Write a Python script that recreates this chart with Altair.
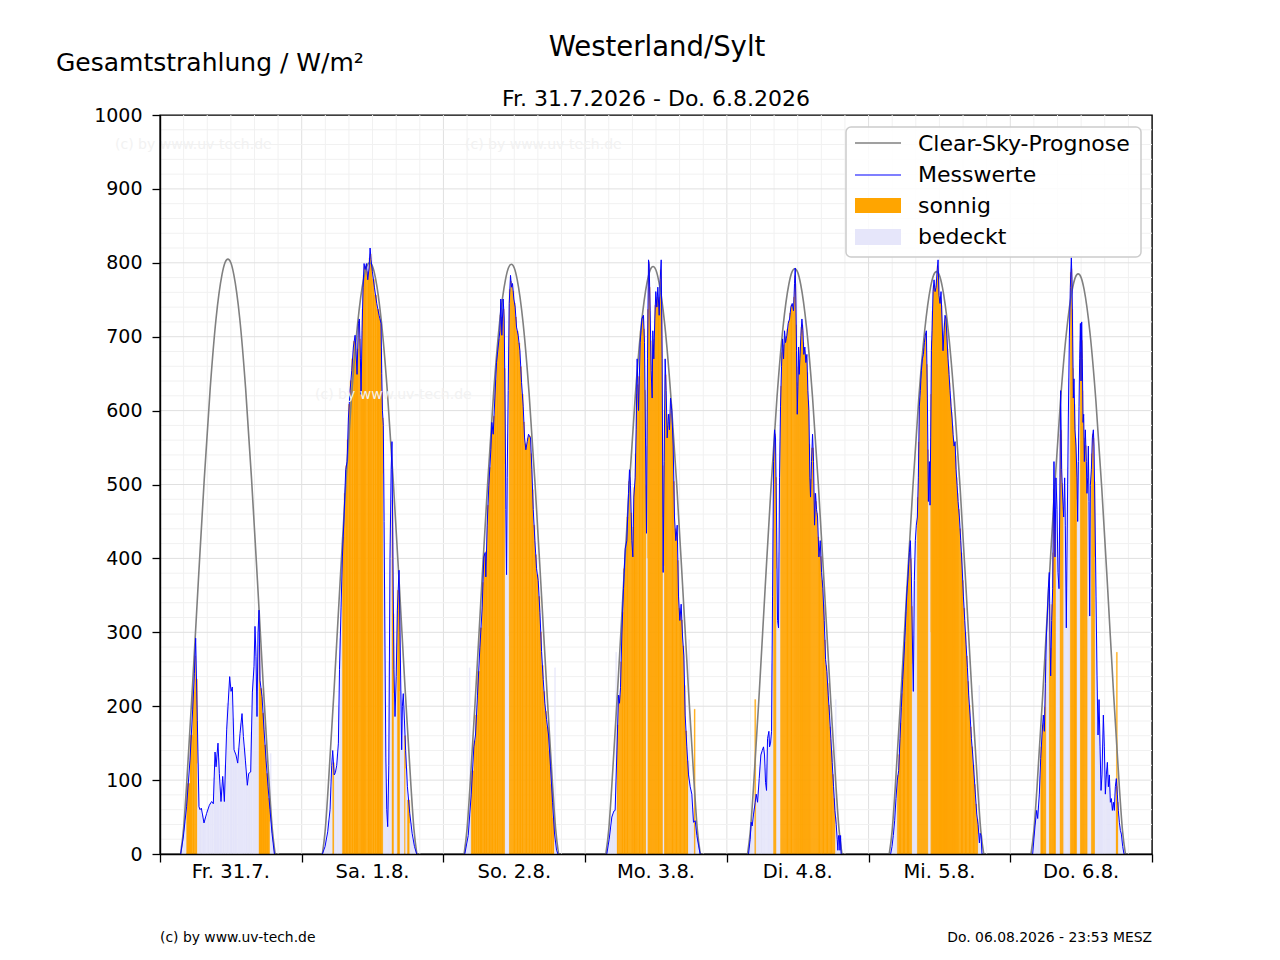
import altair as alt
import pandas as pd

FONT = "DejaVu Sans"

day_labels = ["Fr. 31.7.", "Sa. 1.8.", "So. 2.8.", "Mo. 3.8.", "Di. 4.8.", "Mi. 5.8.", "Do. 6.8."]

# Clear-sky forecast (W/m^2) at these hours of each day
cs_hours = [3.5, 4.0, 4.5, 5.5, 6.5, 7.5, 8.5, 9.5, 10.5, 11.0, 11.5, 12.0, 12.5, 13.5, 14.5, 15.5, 16.5, 17.5, 18.5, 19.0, 19.5]
cs_fr = [0, 35, 93, 227, 370, 508, 630, 725, 784, 800, 805, 800, 784, 725, 630, 508, 370, 227, 93, 35, 0]
cs_sa = [0, 34, 92, 225, 368, 505, 626, 720, 779, 795, 800, 795, 779, 720, 626, 505, 368, 225, 92, 34, 0]
cs_so = [0, 34, 91, 224, 366, 503, 624, 718, 777, 793, 798, 793, 777, 718, 624, 503, 366, 224, 91, 34, 0]
cs_mo = [0, 33, 90, 222, 364, 501, 621, 715, 774, 790, 795, 790, 774, 715, 621, 501, 364, 222, 90, 33, 0]
cs_di = [0, 33, 89, 220, 362, 499, 619, 712, 771, 787, 792, 787, 771, 712, 619, 499, 362, 220, 89, 33, 0]
cs_mi = [0, 32, 88, 218, 360, 496, 616, 708, 767, 783, 788, 783, 767, 708, 616, 496, 360, 218, 88, 32, 0]
cs_do = [0, 32, 87, 216, 358, 494, 613, 705, 764, 780, 785, 780, 764, 705, 613, 494, 358, 216, 87, 32, 0]

# Measured values (hour of day, W/m^2)
mh_fr = [3.50, 3.95, 4.50, 5.08, 5.53, 5.82, 6.04, 6.32, 6.60, 6.78, 7.00, 7.45, 7.90, 8.36, 8.75, 9.03, 9.32, 9.49, 9.82, 10.05, 10.33, 10.62, 10.90, 11.29, 11.80, 12.03, 12.25, 12.54, 12.87, 13.16, 13.55, 13.89, 14.12, 14.46, 14.79, 15.02, 15.36, 15.64, 15.92, 16.09, 16.26, 16.43, 16.60, 16.77, 16.94, 17.28, 17.62, 17.96, 18.30, 18.63, 18.97, 19.37]
mv_fr = [0, 23, 64, 127, 195, 244, 292, 181, 64, 60, 62, 42, 55, 66, 71, 68, 138, 118, 150, 109, 71, 105, 71, 168, 240, 220, 226, 141, 134, 123, 163, 190, 159, 127, 93, 109, 111, 218, 254, 308, 267, 186, 299, 330, 235, 213, 168, 127, 91, 60, 28, 0]

mh_sa = [3.50, 3.95, 4.40, 4.80, 5.08, 5.25, 5.50, 5.70, 5.93, 6.21, 6.40, 6.66, 6.89, 7.17, 7.45, 7.68, 7.91, 8.19, 8.47, 8.75, 9.04, 9.20, 9.37, 9.60, 9.77, 9.94, 10.05, 10.22, 10.39, 10.56, 10.73, 10.96, 11.18, 11.41, 11.58, 11.75, 11.97, 12.31, 12.71, 13.10, 13.44, 13.55, 13.67, 13.82, 13.95, 14.10, 14.25, 14.40, 14.56, 14.75, 14.95, 15.15, 15.29, 15.45, 15.62, 15.80, 16.00, 16.20, 16.48, 16.65, 16.93, 17.05, 17.20, 17.40, 17.60, 17.90, 18.30, 18.70, 19.10, 19.47]
mv_sa = [0, 10, 30, 60, 120, 140, 107, 110, 120, 150, 250, 333, 402, 456, 520, 531, 590, 627, 654, 686, 702, 681, 649, 718, 724, 670, 622, 708, 767, 799, 791, 799, 777, 793, 820, 804, 788, 767, 745, 729, 718, 650, 600, 580, 450, 280, 130, 60, 37, 120, 400, 520, 558, 400, 250, 186, 240, 330, 384, 300, 141, 200, 217, 180, 140, 91, 55, 28, 10, 0]

mh_so = [3.62, 4.20, 4.70, 5.15, 5.43, 5.77, 6.17, 6.56, 6.84, 7.07, 7.18, 7.41, 7.69, 8.03, 8.20, 8.43, 8.71, 8.99, 9.27, 9.56, 9.72, 9.89, 10.12, 10.29, 10.46, 10.57, 10.69, 10.80, 10.97, 11.14, 11.36, 11.53, 11.70, 11.93, 12.15, 12.38, 12.66, 12.95, 13.23, 13.51, 13.74, 13.96, 14.19, 14.41, 14.75, 14.98, 15.21, 15.49, 15.77, 16.05, 16.34, 16.62, 16.90, 17.18, 17.47, 17.80, 18.14, 18.48, 18.82, 19.16, 19.39]
mv_so = [0, 25, 80, 145, 161, 215, 279, 333, 402, 408, 375, 445, 499, 547, 584, 568, 617, 665, 686, 708, 751, 702, 751, 724, 590, 466, 378, 509, 627, 745, 783, 767, 772, 751, 740, 713, 702, 681, 638, 606, 563, 547, 558, 568, 563, 520, 466, 424, 386, 370, 327, 274, 236, 204, 182, 161, 118, 70, 27, 5, 0]

mh_mo = [3.67, 4.07, 4.52, 4.86, 5.08, 5.36, 5.65, 5.82, 5.99, 6.21, 6.49, 6.78, 7.06, 7.34, 7.51, 7.68, 7.91, 8.08, 8.24, 8.47, 8.64, 8.81, 9.04, 9.32, 9.60, 9.88, 10.05, 10.22, 10.39, 10.56, 10.73, 10.84, 11.01, 11.18, 11.35, 11.46, 11.63, 11.80, 11.97, 12.14, 12.31, 12.54, 12.71, 12.88, 13.04, 13.21, 13.38, 13.55, 13.72, 13.89, 14.12, 14.29, 14.46, 14.68, 14.91, 15.13, 15.36, 15.59, 15.81, 16.04, 16.26, 16.49, 16.72, 16.94, 17.22, 17.51, 17.79, 18.07, 18.35, 18.64, 18.92, 19.20, 19.48]
mv_mo = [0, 20, 50, 58, 59, 134, 215, 204, 225, 295, 359, 413, 424, 488, 520, 499, 424, 402, 483, 509, 574, 670, 600, 692, 724, 729, 692, 563, 434, 670, 804, 799, 735, 654, 617, 708, 670, 724, 761, 740, 767, 729, 777, 804, 670, 381, 531, 670, 627, 563, 595, 574, 617, 600, 552, 456, 424, 445, 349, 316, 338, 295, 268, 188, 145, 107, 91, 81, 43, 45, 25, 12, 0]

mh_di = [3.67, 3.95, 4.12, 4.29, 4.52, 4.80, 4.97, 5.20, 5.48, 5.76, 5.99, 6.21, 6.38, 6.55, 6.72, 6.89, 7.12, 7.23, 7.40, 7.57, 7.74, 7.91, 8.08, 8.24, 8.41, 8.58, 8.75, 8.92, 9.09, 9.26, 9.43, 9.60, 9.77, 9.94, 10.16, 10.39, 10.62, 10.84, 11.07, 11.29, 11.46, 11.58, 11.69, 11.80, 11.92, 12.03, 12.14, 12.25, 12.37, 12.54, 12.71, 12.88, 13.04, 13.21, 13.38, 13.55, 13.72, 13.89, 14.06, 14.17, 14.34, 14.51, 14.68, 14.85, 15.02, 15.19, 15.36, 15.59, 15.81, 16.04, 16.26, 16.49, 16.72, 16.94, 17.17, 17.39, 17.62, 17.84, 18.07, 18.30, 18.52, 18.69, 18.80, 18.92, 19.03, 19.15, 19.26, 19.35]
mv_di = [0, 20, 43, 38, 54, 70, 81, 70, 102, 134, 140, 145, 134, 97, 86, 156, 166, 145, 150, 166, 349, 531, 574, 563, 456, 316, 306, 509, 606, 660, 697, 670, 708, 692, 702, 718, 724, 740, 745, 735, 772, 793, 751, 681, 595, 633, 686, 649, 670, 702, 724, 708, 676, 686, 665, 676, 627, 600, 509, 483, 531, 568, 531, 445, 488, 466, 456, 402, 424, 381, 359, 316, 263, 247, 215, 188, 156, 124, 91, 59, 40, 20, 5, 25, 25, 5, 25, 0]

mh_mi = [3.74, 3.97, 4.19, 4.42, 4.64, 4.87, 5.10, 5.32, 5.55, 5.78, 6.00, 6.23, 6.45, 6.68, 6.91, 7.08, 7.25, 7.41, 7.58, 7.75, 7.92, 8.09, 8.26, 8.43, 8.60, 8.77, 8.94, 9.11, 9.28, 9.45, 9.62, 9.79, 9.96, 10.13, 10.30, 10.41, 10.52, 10.64, 10.75, 10.92, 11.09, 11.26, 11.43, 11.60, 11.77, 11.93, 12.10, 12.27, 12.44, 12.61, 12.78, 12.95, 13.12, 13.29, 13.46, 13.63, 13.80, 13.97, 14.14, 14.31, 14.48, 14.65, 14.82, 14.99, 15.16, 15.38, 15.61, 15.83, 16.06, 16.29, 16.51, 16.74, 16.96, 17.19, 17.42, 17.64, 17.87, 18.09, 18.32, 18.55, 18.77, 18.90, 19.05, 19.20]
mv_mi = [0, 10, 25, 45, 75, 100, 113, 156, 198, 236, 268, 306, 349, 375, 408, 424, 375, 295, 220, 370, 424, 445, 456, 509, 606, 627, 654, 670, 676, 692, 702, 708, 617, 477, 531, 472, 563, 681, 708, 761, 777, 761, 767, 788, 804, 756, 745, 761, 724, 681, 708, 729, 724, 697, 670, 649, 627, 606, 590, 568, 552, 558, 520, 499, 477, 456, 424, 391, 349, 316, 284, 252, 215, 188, 156, 134, 107, 81, 54, 40, 15, 28, 25, 0]

mh_do = [3.79, 4.19, 4.47, 4.64, 4.92, 5.15, 5.37, 5.60, 5.77, 5.94, 6.11, 6.27, 6.44, 6.61, 6.73, 6.84, 7.01, 7.18, 7.29, 7.40, 7.57, 7.74, 7.91, 8.08, 8.25, 8.42, 8.53, 8.70, 8.87, 9.04, 9.21, 9.32, 9.49, 9.66, 9.83, 10.00, 10.17, 10.34, 10.45, 10.57, 10.68, 10.79, 10.96, 11.13, 11.30, 11.41, 11.53, 11.64, 11.75, 11.87, 11.98, 12.09, 12.20, 12.32, 12.43, 12.54, 12.71, 12.88, 12.99, 13.11, 13.22, 13.33, 13.45, 13.56, 13.73, 13.90, 14.07, 14.18, 14.35, 14.52, 14.69, 14.86, 15.03, 15.20, 15.37, 15.53, 15.76, 15.93, 16.10, 16.27, 16.44, 16.61, 16.78, 16.95, 17.12, 17.29, 17.46, 17.62, 17.79, 17.96, 18.13, 18.30, 18.47, 18.64, 18.81, 19.04, 19.26]
mv_do = [0, 38, 59, 48, 81, 129, 161, 188, 166, 231, 295, 322, 359, 381, 295, 241, 316, 359, 456, 531, 402, 509, 466, 381, 359, 509, 627, 520, 483, 456, 509, 445, 306, 456, 590, 697, 767, 807, 777, 697, 617, 643, 574, 552, 509, 450, 531, 606, 670, 718, 640, 720, 670, 584, 595, 531, 574, 531, 488, 509, 552, 477, 322, 499, 520, 563, 574, 552, 456, 349, 241, 161, 209, 145, 86, 107, 188, 145, 81, 107, 124, 91, 107, 70, 75, 59, 70, 59, 91, 102, 81, 59, 43, 32, 27, 10, 0]

# Sunny periods (start hour, end hour) per day
sun_fr = [(4.5, 6.2), (16.77, 18.63)]
sun_sa = [(5.2, 5.4), (6.78, 13.85), (15.3, 15.6), (16.2, 16.7), (17.3, 17.6), (17.8, 18.2)]
sun_so = [(4.75, 10.46), (11.14, 18.76)]
sun_mo = [(5.36, 10.33), (10.56, 13.16), (13.38, 17.39)]
sun_di = [(7.91, 8.47), (9.04, 18.52)]
sun_mi = [(4.87, 7.35), (8.26, 10.18), (10.52, 18.55)]
sun_do = [(5.15, 6.16), (6.61, 7.69), (8.42, 8.99), (10.11, 11.24), (11.81, 13.11), (13.73, 14.35), (17.91, 18.30)]

# Single short-interval bars that stand out from the filled area
extra_day = [0, 2, 2, 2, 2, 3, 3, 3, 3, 3, 4, 4, 5, 5, 5, 6]
extra_hour = [18.75, 4.45, 10.72, 10.95, 18.9, 5.25, 10.45, 13.27, 17.6, 18.55, 4.8, 18.45, 7.55, 10.35, 18.75, 18.05]
extra_height = [136, 252, 418, 295, 252, 273, 400, 390, 290, 196, 209, 209, 236, 300, 228, 273]
extra_state = ["bedeckt", "bedeckt", "bedeckt", "bedeckt", "bedeckt", "bedeckt", "bedeckt", "bedeckt",
               "bedeckt", "sonnig", "sonnig", "bedeckt", "bedeckt", "bedeckt", "bedeckt", "sonnig"]

clear_sky = [cs_fr, cs_sa, cs_so, cs_mo, cs_di, cs_mi, cs_do]
meas_h = [mh_fr, mh_sa, mh_so, mh_mo, mh_di, mh_mi, mh_do]
meas_v = [mv_fr, mv_sa, mv_so, mv_mo, mv_di, mv_mi, mv_do]
sunny = [sun_fr, sun_sa, sun_so, sun_mo, sun_di, sun_mi, sun_do]

# ---------- build tables ----------
cs_rows, m_rows, f_rows = [], [], []
for d in range(7):
    for h, v in zip(cs_hours, clear_sky[d]):
        cs_rows.append({"day": d, "t": d + h / 24, "v": v})
    hs, vs = meas_h[d], meas_v[d]
    for h, v in zip(hs, vs):
        m_rows.append({"day": d, "t": d + h / 24, "v": v})
    for i in range(min(len(hs), len(vs)) - 1):
        mid = (hs[i] + hs[i + 1]) / 2
        state = "sonnig" if any(a <= mid <= b for a, b in sunny[d]) else "bedeckt"
        f_rows.append({"t": d + hs[i] / 24, "t1": d + hs[i + 1] / 24,
                       "v": (vs[i] + vs[i + 1]) / 2, "z": 0, "state": state})
cs_df = pd.DataFrame(cs_rows)
m_df = pd.DataFrame(m_rows)
f_df = pd.DataFrame(f_rows)

BAR_W = 0.16  # hours
e_df = pd.DataFrame({
    "t": [d + (h - BAR_W / 2) / 24 for d, h in zip(extra_day, extra_hour)],
    "t1": [d + (h + BAR_W / 2) / 24 for d, h in zip(extra_day, extra_hour)],
    "v": extra_height, "z": [0] * len(extra_height), "state": extra_state,
})

gx_k = list(range(1, 42))
grid_x = pd.DataFrame({"t": [k / 6 for k in gx_k], "major": [k % 6 == 0 for k in gx_k]})
gy_v = list(range(20, 1000, 20))
grid_y = pd.DataFrame({"v": gy_v, "major": [v % 100 == 0 for v in gy_v]})
days_df = pd.DataFrame({"t": [d + 0.5 for d in range(7)], "label": day_labels})

W, H = 992, 739
xs = alt.Scale(domain=[0, 7], nice=False, zero=False)
ys = alt.Scale(domain=[0, 1000], nice=False)
state_scale = alt.Scale(domain=["sonnig", "bedeckt"], range=["#FFA500", "#E6E6FA"])
grid_scale = alt.Scale(domain=[True, False], range=["#e0e0e0", "#f1f1f1"])

x_axis = alt.Axis(values=list(range(8)), labels=False, ticks=True, tickSize=8, tickColor="black",
                  tickWidth=1.3, domain=True, domainColor="black", domainWidth=1.4, grid=False,
                  title=None, zindex=1)
y_axis = alt.Axis(values=list(range(0, 1001, 100)), format="d", labelFontSize=19, labelFont=FONT,
                  labelColor="black", tickSize=8, tickColor="black", tickWidth=1.3, labelPadding=10,
                  domainColor="black", domainWidth=1.4, grid=False, title=None, zindex=1)

X = lambda f: alt.X(f, scale=xs, axis=x_axis)
Y = lambda f: alt.Y(f, scale=ys, axis=y_axis)

gx = alt.Chart(grid_x).mark_rule(strokeWidth=1).encode(
    x=X("t:Q"), color=alt.Color("major:N", scale=grid_scale, legend=None))
gy = alt.Chart(grid_y).mark_rule(strokeWidth=1).encode(
    y=Y("v:Q"), color=alt.Color("major:N", scale=grid_scale, legend=None))

fill = alt.Chart(f_df).mark_rect(strokeWidth=0.4).encode(
    x=X("t:Q"), x2="t1:Q", y=Y("v:Q"), y2="z:Q",
    color=alt.Color("state:N", scale=state_scale, legend=None),
    stroke=alt.Stroke("state:N", scale=state_scale, legend=None),
)
extra = alt.Chart(e_df).mark_rect(strokeWidth=0.3).encode(
    x=X("t:Q"), x2="t1:Q", y=Y("v:Q"), y2="z:Q",
    color=alt.Color("state:N", scale=state_scale, legend=None),
    stroke=alt.Stroke("state:N", scale=state_scale, legend=None),
)

cs_line = alt.Chart(cs_df).mark_line(color="#808080", strokeWidth=1.6, interpolate="monotone").encode(
    x=X("t:Q"), y=Y("v:Q"), detail="day:N")
m_line = alt.Chart(m_df).mark_line(color="#0000FF", strokeWidth=1).encode(
    x=X("t:Q"), y=Y("v:Q"), detail="day:N")

day_text = alt.Chart(days_df).mark_text(font=FONT, fontSize=19.5, baseline="middle", align="center",
                                        color="black").encode(
    x=X("t:Q"), y=alt.value(757), text="label:N")

one = pd.DataFrame({"a": [0]})


def txt(s, x, y, size, align="left", color="black", baseline="middle"):
    return alt.Chart(one).mark_text(font=FONT, fontSize=size, align=align, baseline=baseline,
                                    color=color).encode(x=alt.value(x), y=alt.value(y), text=alt.value(s))


OX, OY = 160, 115  # plot origin in page pixels
texts = [
    txt("(c) by www.uv-tech.de", 115 - OX, 145 - OY, 14, color="#f2f2f2"),
    txt("(c) by www.uv-tech.de", 465 - OX, 145 - OY, 14, color="#f2f2f2"),
    txt("(c) by www.uv-tech.de", 315 - OX, 395 - OY, 14, color="#f2f2f2"),
    txt("Westerland/Sylt", 657 - OX, 48 - OY, 27.5, align="center"),
    txt("Fr. 31.7.2026 - Do. 6.8.2026", 656 - OX, 99 - OY, 22, align="center"),
    txt("Gesamtstrahlung / W/m²", 56 - OX, 63 - OY, 25),
    txt("(c) by www.uv-tech.de", 160 - OX, 938 - OY, 13.9),
    txt("Do. 06.08.2026 - 23:53 MESZ", 1152 - OX, 938 - OY, 13.9, align="right"),
]

# legend box
leg_box = alt.Chart(one).mark_rect(cornerRadius=5, fill="white", fillOpacity=0.85, stroke="#cccccc",
                                   strokeWidth=1.5).encode(
    x=alt.value(846 - OX), x2=alt.value(1141 - OX), y=alt.value(127 - OY), y2=alt.value(257 - OY))
leg_cs = alt.Chart(one).mark_rule(color="#808080", strokeWidth=1.6).encode(
    x=alt.value(855 - OX), x2=alt.value(901 - OX), y=alt.value(143 - OY))
leg_m = alt.Chart(one).mark_rule(color="#0000FF", strokeWidth=1).encode(
    x=alt.value(855 - OX), x2=alt.value(901 - OX), y=alt.value(175 - OY))
leg_s = alt.Chart(one).mark_rect(color="#FFA500").encode(
    x=alt.value(855 - OX), x2=alt.value(901 - OX), y=alt.value(198 - OY), y2=alt.value(213 - OY))
leg_b = alt.Chart(one).mark_rect(color="#E6E6FA").encode(
    x=alt.value(855 - OX), x2=alt.value(901 - OX), y=alt.value(229 - OY), y2=alt.value(245 - OY))
leg_texts = [
    txt("Clear-Sky-Prognose", 918 - OX, 144 - OY, 22),
    txt("Messwerte", 918 - OX, 175 - OY, 22),
    txt("sonnig", 918 - OX, 206 - OY, 22),
    txt("bedeckt", 918 - OX, 237 - OY, 22),
]

chart = alt.layer(
    gx, gy, fill, extra, cs_line, m_line, day_text,
    leg_box, leg_cs, leg_m, leg_s, leg_b, *leg_texts, *texts,
).resolve_scale(color="independent", stroke="independent").properties(
    width=W, height=H,
    autosize=alt.AutoSizeParams(type="none"),
    padding={"left": 152, "top": 107, "right": 120, "bottom": 98},
).configure_view(stroke="black", strokeWidth=1.4)

chart.save("out.html", embed_options={"renderer": "svg", "actions": False})
